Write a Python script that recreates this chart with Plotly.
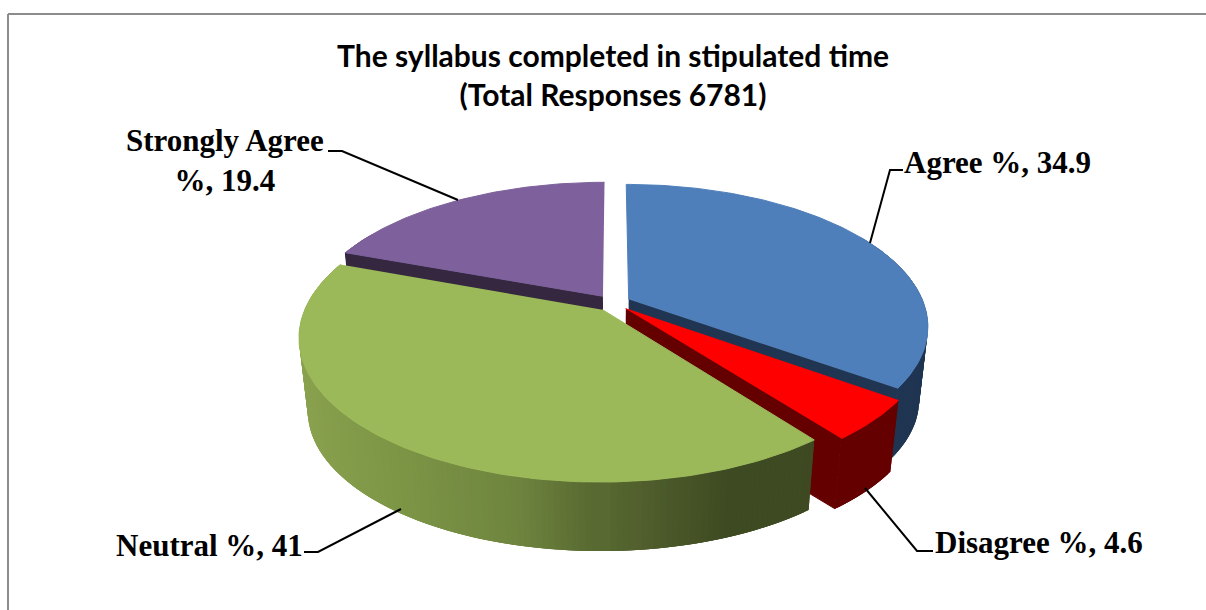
import numpy as np
import plotly.graph_objects as go

categories = ['Agree %', 'Disagree %', 'Neutral %', 'Strongly Agree %']
values = [34.9, 4.6, 41, 19.4]
title_lines = ['The syllabus completed in stipulated time', '(Total Responses 6781)']

top_colors = ['#4f7fba', '#ff0000', '#9bb959', '#7e619c']
face_colors = ['#1f3552', '#650000', '#3d4822', '#34273f']
# wall shading from left to right of the pie (only the green one really changes)
neutral_wall = [(-1.0, '#8ba350'), (-0.6, '#7d9646'), (-0.25, '#6f853f'), (0.0, '#55652f'), (0.3, '#3f4b23'), (1.0, '#3d4822')]

CX, CY = 613, 303
R = 295
PERSP = 0.186
SQUASH = 137.5
EXPLODE = 0.06
WALL_SHRINK = 0.972
WALL_DROP = 74
SERIF = 'Liberation Serif'
SANS = 'Lato'


def project(gx, gy, depth=False):
    d = 1 + PERSP * gy
    u = R * gx / d
    v = -SQUASH * gy / d
    if depth:
        u = u * WALL_SHRINK
        v = v * WALL_SHRINK + WALL_DROP
    return CX + u, CY + v


def hex_rgb(c):
    return np.array([int(c[i:i + 2], 16) for i in (1, 3, 5)], dtype=float)


def shade(stops, pos):
    xs = [s[0] for s in stops]
    rgb = [np.interp(pos, xs, [hex_rgb(s[1])[k] for s in stops]) for k in range(3)]
    return 'rgb(%d,%d,%d)' % tuple(rgb)


def poly(xs, ys, color, edge=1):
    return go.Scatter(x=list(xs), y=list(ys), mode='lines', fill='toself', fillcolor=color,
                      line=dict(color=color, width=edge), hoverinfo='skip', showlegend=False)


def add_slice(fig, start, end, top, face, wall_stops=None):
    mid = np.radians((start + end) / 2)
    ox, oy = EXPLODE * np.sin(mid), EXPLODE * np.cos(mid)
    th = np.radians(np.arange(start, end, 1.0))
    th = np.append(th, np.radians(end))
    gx = ox + np.sin(th)
    gy = oy + np.cos(th)

    # cut faces first, only the ones turned to the viewer
    visible = []
    if np.sin(th[0]) < -1e-9:
        visible.append(0)
    if np.sin(th[-1]) > 1e-9:
        visible.append(-1)
    for k in visible:
        fx = np.array([ox, gx[k]])
        fy = np.array([oy, gy[k]])
        x1, y1 = project(fx, fy)
        x2, y2 = project(fx, fy, depth=True)
        fig.add_trace(poly(np.r_[x1, x2[::-1]], np.r_[y1, y2[::-1]], face))

    # outer wall, back to front, strips overlap so no seams show
    n = len(th) - 1
    order = np.argsort(-(gy[:-1] + gy[1:]))
    for i in order:
        if np.cos(th[i]) > 0.5:  # far side, the top hides it anyway
            continue
        a, b = max(i - 1, 0), min(i + 3, n + 1)
        x1, y1 = project(gx[a:b], gy[a:b])
        x2, y2 = project(gx[a:b], gy[a:b], depth=True)
        color = shade(wall_stops, (gx[i] + gx[i + 1]) / 2) if wall_stops else face
        fig.add_trace(poly(np.r_[x1, x2[::-1]], np.r_[y1, y2[::-1]], color, edge=0))

    # top
    x, y = project(np.r_[ox, gx], np.r_[oy, gy])
    fig.add_trace(poly(x, y, top))


fig = go.Figure()

shares = np.array(values) / sum(values) * 360
ends = np.cumsum(shares)
starts = ends - shares

# painter's order: purple, blue, red, green
for i in [3, 0, 1, 2]:
    add_slice(fig, starts[i], ends[i], top_colors[i], face_colors[i],
              neutral_wall if categories[i].startswith('Neutral') else None)

leaders = [
    ([328, 342, 458], [151, 151, 200]),
    ([903, 890, 870], [170, 170, 243]),
    ([933, 917, 865], [551, 551, 488]),
    ([304, 318, 401], [552, 552, 509]),
]
for lx, ly in leaders:
    fig.add_trace(go.Scatter(x=lx, y=ly, mode='lines', line=dict(color='black', width=2),
                             hoverinfo='skip', showlegend=False))

label_font = dict(family=SERIF, size=31, color='black')
label_spots = [
    (997, 162, 'center', categories[0] + ', ' + str(values[0])),
    (1039, 542, 'center', categories[1] + ', ' + str(values[1])),
    (209, 545, 'center', categories[2] + ', ' + str(values[2])),
    (225, 160, 'center', 'Strongly Agree<br>%, ' + str(values[3])),
]
for x, y, anchor, text in label_spots:
    fig.add_annotation(x=x, y=y, text='<b>' + text + '</b>', showarrow=False, xanchor=anchor,
                       yanchor='middle', font=label_font, align='center')

fig.add_annotation(x=613, y=74, text='<b>' + '<br>'.join(title_lines) + '</b>', showarrow=False,
                   xanchor='center', yanchor='middle', align='center',
                   font=dict(family=SANS, size=30, color='black'))

# chart area border runs off the picture on the right and at the bottom
fig.add_shape(type='line', x0=8, x1=8, y0=14, y1=610, line=dict(color='#8c8c8c', width=2))
fig.add_shape(type='line', x0=8, x1=1206, y0=14, y1=14, line=dict(color='#8c8c8c', width=2))

fig.update_layout(
    width=1206, height=610,
    margin=dict(l=0, r=0, t=0, b=0),
    paper_bgcolor='white', plot_bgcolor='white',
    showlegend=False,
    xaxis=dict(range=[0, 1206], visible=False, fixedrange=True),
    yaxis=dict(range=[610, 0], visible=False, fixedrange=True),
)

fig.write_html("out.html", config={'displayModeBar': False},
               post_script="document.body.style.margin='0';document.body.style.overflow='hidden';")
